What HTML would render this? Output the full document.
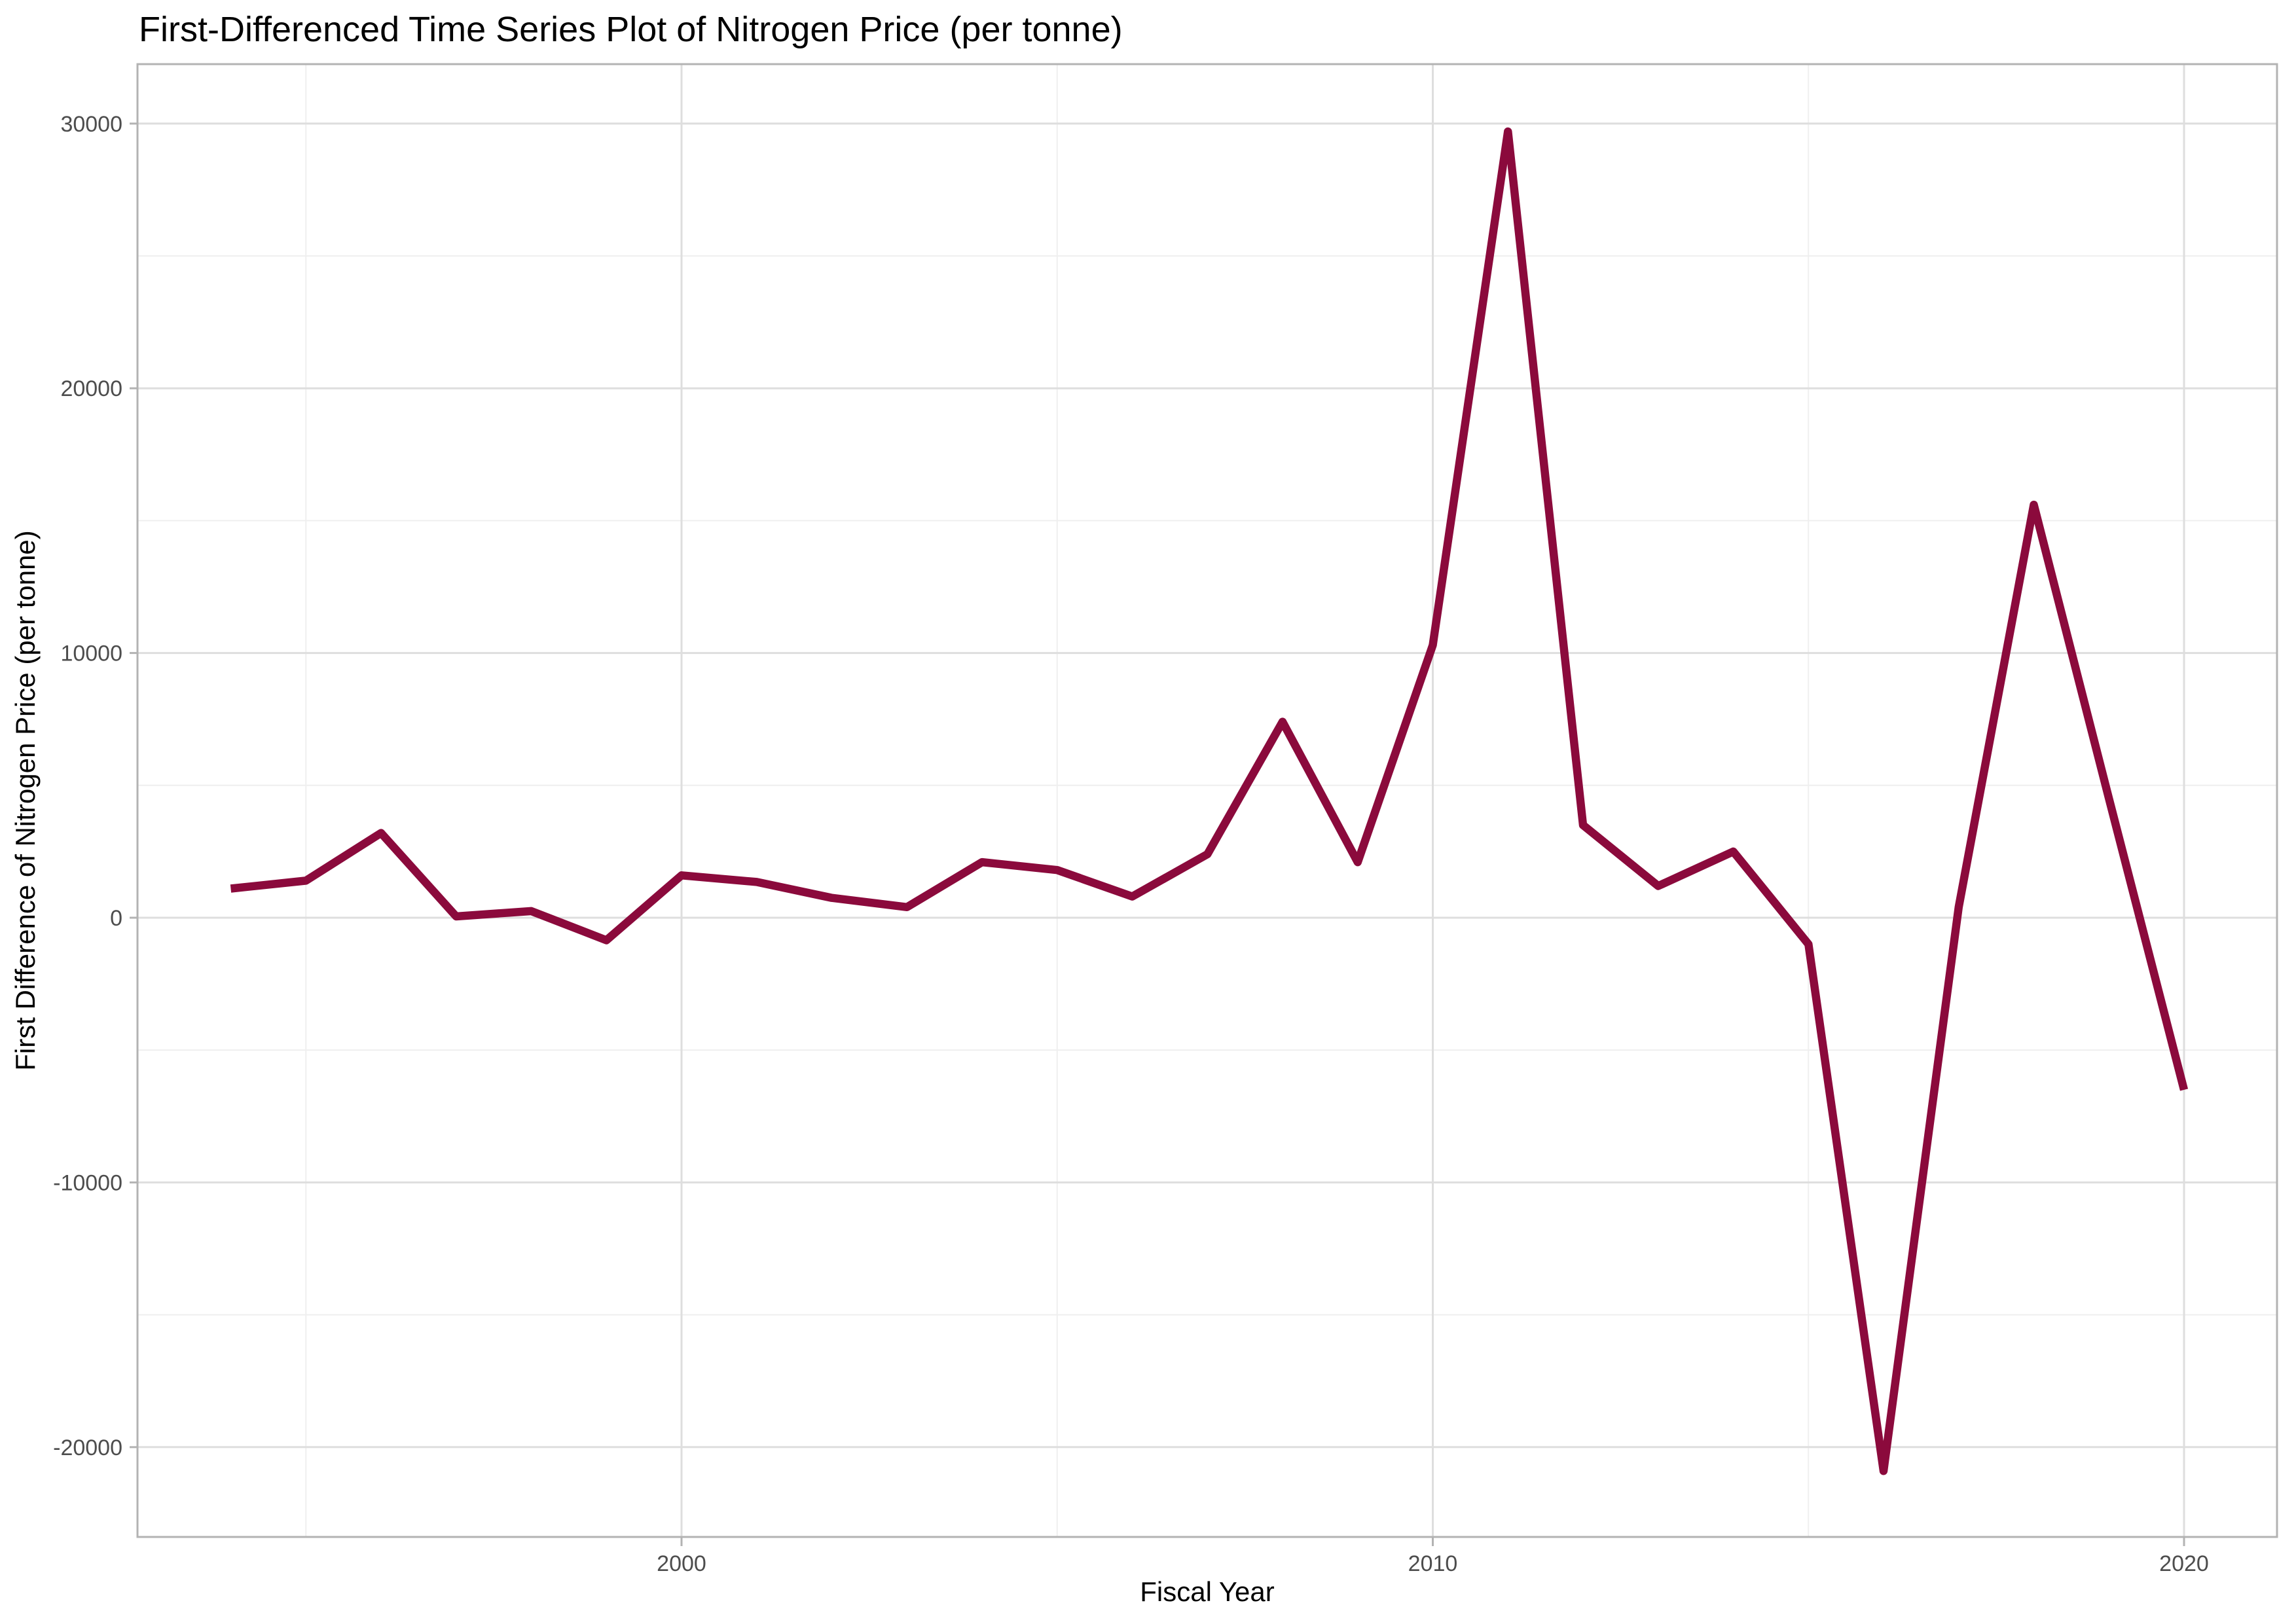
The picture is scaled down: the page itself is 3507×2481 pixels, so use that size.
<!DOCTYPE html>
<html><head><meta charset="utf-8"><style>
html,body{margin:0;padding:0;background:#fff;}
svg{display:block;font-family:"Liberation Sans",Arial,sans-serif;}
</style></head><body>
<svg id="chart" width="3507" height="2481" viewBox="0 0 3507 2481">
<text x="212" y="63" font-size="54" fill="#000">First-Differenced Time Series Plot of Nitrogen Price (per tonne)</text>
<g id="grid"></g>
<g id="axes"></g>
<path id="line" fill="none" stroke="#8b0a3c" stroke-width="12.5" stroke-linejoin="round" stroke-linecap="butt"></path>
<rect x="210" y="98" width="3268" height="2250" fill="none" stroke="#b3b3b3" stroke-width="3"/>
<text x="1844" y="2446" font-size="42" text-anchor="middle" fill="#000">Fiscal Year</text>
<text transform="translate(53,1223) rotate(-90)" font-size="42" text-anchor="middle" fill="#000">First Difference of Nitrogen Price (per tonne)</text>
</svg>
<script>
const years=[1994,1995,1996,1997,1998,1999,2000,2001,2002,2003,2004,2005,2006,2007,2008,2009,2010,2011,2012,2013,2014,2015,2016,2017,2018,2019,2020];
const values=[1100,1400,3200,50,250,-850,1600,1350,750,400,2100,1800,800,2400,7400,2100,10300,29700,3500,1200,2500,-1000,-20900,400,15600,4500,-6500];
const yTicks=[-20000,-10000,0,10000,20000,30000];
const yMinor=[-15000,-5000,5000,15000,25000];
const xTicks=[2000,2010,2020];
const xMinor=[1995,2005,2015];
const NS="http://www.w3.org/2000/svg";
const L=210,R=3478,T=98,B=2348;
function xs(v){return 1041+(v-2000)*114.75;}
function ys(v){return 1402-v*0.04044;}
const grid=document.getElementById('grid'),axes=document.getElementById('axes');
function ln(g,x1,y1,x2,y2,c,w){const e=document.createElementNS(NS,'line');e.setAttribute('x1',x1);e.setAttribute('y1',y1);e.setAttribute('x2',x2);e.setAttribute('y2',y2);e.setAttribute('stroke',c);e.setAttribute('stroke-width',w);g.appendChild(e);return e;}
yMinor.forEach(v=>{const e=ln(grid,L,ys(v),R,ys(v),'#efefef',2);

});
xMinor.forEach(v=>{const e=ln(grid,xs(v),T,xs(v),B,'#efefef',2);

});
yTicks.forEach(v=>{const y=ys(v);const e=ln(grid,L,y,R,y,'#dedede',3);


const t=ln(axes,198,y,210,y,'#b3b3b3',3);


const tx=document.createElementNS(NS,'text');tx.setAttribute('x',187);tx.setAttribute('y',y+12);tx.setAttribute('font-size','34');tx.setAttribute('text-anchor','end');tx.setAttribute('fill','#4d4d4d');tx.textContent=v;


axes.appendChild(tx);});
xTicks.forEach(v=>{const x=xs(v);const e=ln(grid,x,T,x,B,'#dedede',3);


const t=ln(axes,x,2348,x,2362,'#b3b3b3',3);


const tx=document.createElementNS(NS,'text');tx.setAttribute('x',x);tx.setAttribute('y',2400);tx.setAttribute('font-size','34');tx.setAttribute('text-anchor','middle');tx.setAttribute('fill','#4d4d4d');tx.textContent=v;


axes.appendChild(tx);});
document.getElementById('line').setAttribute('d',years.map((y,i)=>(i?'L':'M')+xs(y).toFixed(1)+' '+ys(values[i]).toFixed(1)).join(' '));
</script>
</body></html>
